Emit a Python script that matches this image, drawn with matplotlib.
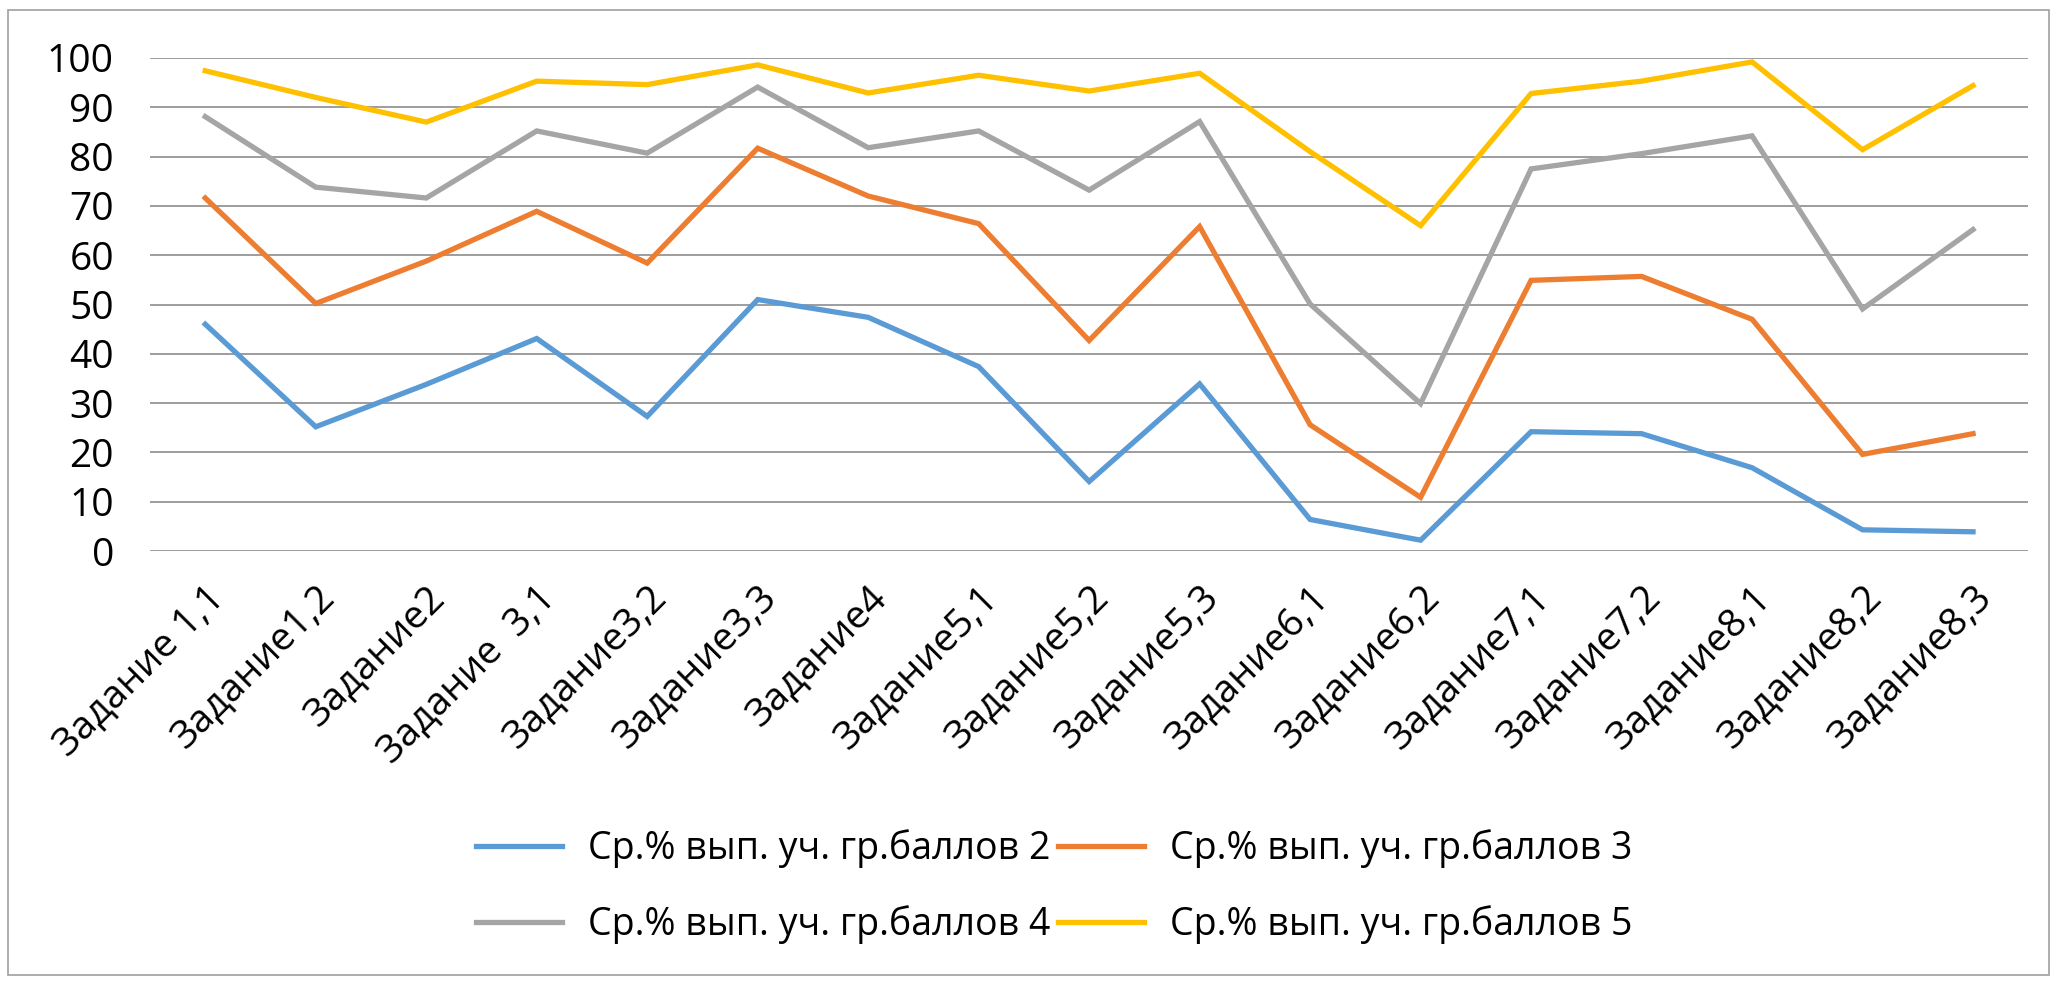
import matplotlib
matplotlib.use("Agg")
import matplotlib.pyplot as plt
from matplotlib.patches import Rectangle

plt.rcParams['font.family'] = ['Open Sans', 'DejaVu Sans']

# Categories
tasks = ['Задание 1,1', 'Задание1,2', 'Задание2', 'Задание  3,1', 'Задание3,2',
         'Задание3,3', 'Задание4', 'Задание5,1', 'Задание5,2', 'Задание5,3',
         'Задание6,1', 'Задание6,2', 'Задание7,1', 'Задание7,2', 'Задание8,1',
         'Задание8,2', 'Задание8,3']

# Series values
score2 = [46.0, 25.2, 33.8, 43.1, 27.3, 51.0, 47.4, 37.4, 14.1, 33.9, 6.4, 2.2,
          24.2, 23.8, 16.9, 4.3, 3.9]
score3 = [71.6, 50.2, 58.8, 68.9, 58.4, 81.7, 72.0, 66.4, 42.7, 65.8, 25.6, 10.9,
          54.9, 55.7, 47.0, 19.6, 23.8]
score4 = [88.1, 73.8, 71.6, 85.2, 80.7, 94.1, 81.8, 85.2, 73.2, 87.1, 50.1, 29.9,
          77.5, 80.6, 84.2, 49.1, 65.2]
score5 = [97.4, 92.0, 87.0, 95.3, 94.6, 98.6, 92.9, 96.5, 93.3, 96.9, 81.0, 66.0,
          92.8, 95.3, 99.2, 81.4, 94.4]

labels = ['Ср.% вып. уч. гр.баллов 2', 'Ср.% вып. уч. гр.баллов 3',
          'Ср.% вып. уч. гр.баллов 4', 'Ср.% вып. уч. гр.баллов 5']
colors = ['#5B9BD5', '#ED7D31', '#A5A5A5', '#FFC000']
yticks = list(range(0, 101, 10))

fig = plt.figure(figsize=(20.55, 9.81), dpi=100)
ax = fig.add_axes([0.073, 0.4383, 0.914, 0.5026])

x = list(range(len(tasks)))
lines = []
for vals, lab, col in zip([score2, score3, score4, score5], labels, colors):
    ln, = ax.plot(x, vals, color=col, lw=3.8, label=lab, solid_joinstyle='miter')
    lines.append(ln)

ax.set_xlim(-0.5, len(tasks) - 0.5)
ax.set_ylim(0, 100)
ax.set_yticks(yticks)
ax.yaxis.grid(True, color='#8C8C8C', lw=1.2)
ax.set_axisbelow(True)
for s in ax.spines.values():
    s.set_visible(False)

ax.set_xticks(x)
ax.set_xticklabels(tasks, rotation=45, ha='right', va='top', rotation_mode='anchor')
ax.tick_params(axis='x', length=0, pad=20, labelsize=28, colors='#000000')
ax.tick_params(axis='y', length=0, pad=26, labelsize=28, colors='#000000')

# legend: row 1 -> 2,3 ; row 2 -> 4,5
order = [0, 2, 1, 3]
fig.legend([lines[i] for i in order], [labels[i] for i in order], ncol=2,
           loc='center', bbox_to_anchor=(0.513, 0.096), frameon=False,
           fontsize=27, handlelength=2.3, handletextpad=0.7,
           columnspacing=0.2, labelspacing=1.0)

# outer chart border
fig.patches.append(Rectangle((0.004, 0.006), 0.993, 0.984, transform=fig.transFigure,
                             fill=False, edgecolor='#A0A0A0', lw=1.2))

fig.savefig('out.png', dpi=100, facecolor='white')
